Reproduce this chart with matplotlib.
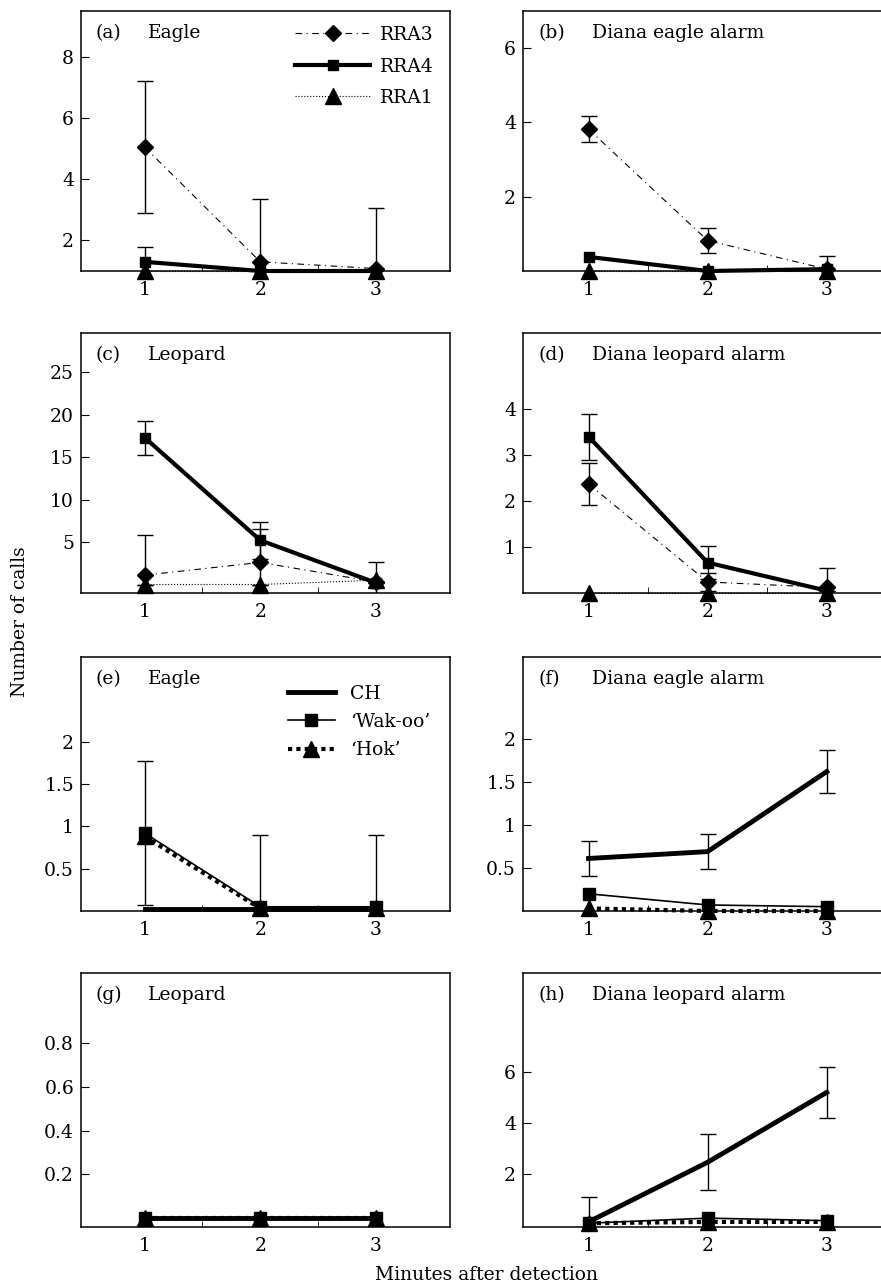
import numpy as np
import matplotlib
matplotlib.use('Agg')
import matplotlib.pyplot as plt
from matplotlib.lines import Line2D

plt.rcParams['font.family'] = ['DejaVu Serif']
plt.rcParams['font.size'] = 13.5

minutes = [1, 2, 3]

# (a) Eagle
a_rra3 = [5.05, 1.3, 1.08]
a_rra3_err = [2.15, 2.05, 0.0]
a_rra4 = [1.3, 1.0, 1.0]
a_rra4_err = [0.5, 0.0, 2.05]
a_rra1 = [1.0, 1.0, 1.0]

# (b) Diana eagle alarm
b_rra3 = [3.82, 0.82, 0.05]
b_rra3_err = [0.35, 0.33, 0.35]
b_rra4 = [0.38, 0.0, 0.05]
b_rra1 = [0.0, 0.0, 0.0]

# (c) Leopard
c_rra3 = [1.1, 2.6, 0.3]
c_rra3_err = [4.7, 3.9, 0.0]
c_rra4 = [17.3, 5.2, 0.2]
c_rra4_err = [2.0, 2.2, 0.0]
c_rra1 = [0.0, 0.0, 0.5]
c_rra1_err = [0.0, 0.0, 2.2]

# (d) Diana leopard alarm
d_rra3 = [2.37, 0.24, 0.12]
d_rra3_err = [0.45, 0.2, 0.42]
d_rra4 = [3.4, 0.66, 0.05]
d_rra4_err = [0.5, 0.36, 0.0]
d_rra1 = [0.0, 0.0, 0.0]

# (e) Eagle
e_ch = [0.02, 0.02, 0.02]
e_wak = [0.92, 0.05, 0.05]
e_wak_err = [0.85, 0.85, 0.85]
e_hok = [0.88, 0.03, 0.03]

# (f) Diana eagle alarm
f_ch = [0.61, 0.69, 1.62]
f_ch_err = [0.2, 0.2, 0.25]
f_wak = [0.2, 0.07, 0.05]
f_hok = [0.03, 0.0, 0.0]

# (g) Leopard
g_ch = [0.0, 0.0, 0.0]
g_wak = [0.0, 0.0, 0.0]
g_hok = [0.0, 0.0, 0.0]

# (h) Diana leopard alarm
h_ch = [0.1, 2.45, 5.2]
h_ch_err = [1.0, 1.1, 1.0]
h_wak = [0.05, 0.25, 0.15]
h_hok = [0.05, 0.1, 0.1]

rra3_style = dict(color='black', lw=0.8, ls=(0, (6, 4, 1, 4)), marker='D', ms=8)
rra4_style = dict(color='black', lw=3, ls='-', marker='s', ms=7)
rra1_style = dict(color='black', lw=0.8, ls=':', marker='^', ms=11)
ch_style = dict(color='black', lw=3.5, ls='-')
wak_style = dict(color='black', lw=1.2, ls='-', marker='s', ms=8)
hok_style = dict(color='black', lw=3, ls=(0, (1, 1)), marker='^', ms=11)

fig = plt.figure(figsize=(8.81, 12.87), dpi=100)

W, H = 881.0, 1287.0
cols = [(81, 369), (523, 380)]
rows = [(11, 271), (333, 593), (657, 911), (973, 1227)]


def make_ax(r, c):
    x0, w = cols[c]
    top, bot = rows[r]
    ax = fig.add_axes([x0 / W, 1 - bot / H, w / W, (bot - top) / H])
    ax.set_xlim(0.45, 3.64)
    ax.set_xticks(minutes)
    ax.set_xticks([1.5, 2.5], minor=True)
    ax.tick_params(axis='x', which='major', length=0, pad=7)
    ax.tick_params(axis='x', which='minor', direction='in', length=4)
    ax.tick_params(axis='y', direction='in', length=6, pad=5)
    for s in ax.spines.values():
        s.set_linewidth(1.1)
    return ax


def series(ax, y, style, err=None):
    ax.plot(minutes, y, clip_on=False, zorder=3, **style)
    if err is not None:
        ax.errorbar(minutes, y, yerr=err, fmt='none', ecolor='black',
                    elinewidth=1, capsize=6, capthick=1, zorder=2)


def label(ax, tag, name):
    ax.text(0.04, 0.915, tag, transform=ax.transAxes, va='center')
    ax.text(0.182, 0.915, name, transform=ax.transAxes, va='center')


# (a)
ax = make_ax(0, 0)
series(ax, a_rra3, rra3_style, a_rra3_err)
series(ax, a_rra4, rra4_style, a_rra4_err)
series(ax, a_rra1, rra1_style)
ax.set_ylim(1, 9.5)
ax.set_yticks([2, 4, 6, 8])
label(ax, '(a)', 'Eagle')
hs = [Line2D([], [], **rra3_style), Line2D([], [], **rra4_style), Line2D([], [], **rra1_style)]
ax.legend(hs, ['RRA3', 'RRA4', 'RRA1'], loc='upper left', bbox_to_anchor=(0.54, 1.0),
          frameon=False, handlelength=4.0, handletextpad=0.5, labelspacing=0.72, borderpad=0.3)

# (b)
ax = make_ax(0, 1)
series(ax, b_rra3, rra3_style, b_rra3_err)
series(ax, b_rra4, rra4_style)
series(ax, b_rra1, rra1_style)
ax.set_ylim(0, 7)
ax.set_yticks([2, 4, 6])
label(ax, '(b)', 'Diana eagle alarm')

# (c)
ax = make_ax(1, 0)
series(ax, c_rra3, rra3_style, c_rra3_err)
series(ax, c_rra4, rra4_style, c_rra4_err)
series(ax, c_rra1, rra1_style, c_rra1_err)
ax.set_ylim(-1, 29.6)
ax.set_yticks([5, 10, 15, 20, 25])
label(ax, '(c)', 'Leopard')

# (d)
ax = make_ax(1, 1)
series(ax, d_rra3, rra3_style, d_rra3_err)
series(ax, d_rra4, rra4_style, d_rra4_err)
series(ax, d_rra1, rra1_style)
ax.set_ylim(0, 5.65)
ax.set_yticks([1, 2, 3, 4])
label(ax, '(d)', 'Diana leopard alarm')

# (e)
ax = make_ax(2, 0)
series(ax, e_ch, ch_style)
series(ax, e_wak, wak_style, e_wak_err)
series(ax, e_hok, hok_style)
ax.set_ylim(0, 3.0)
ax.set_yticks([0.5, 1, 1.5, 2])
ax.set_yticklabels(['0.5', '1', '1.5', '2'])
label(ax, '(e)', 'Eagle')
hs = [Line2D([], [], **ch_style), Line2D([], [], **wak_style), Line2D([], [], **hok_style)]
ax.legend(hs, ['CH', '\u2018Wak-oo\u2019', '\u2018Hok\u2019'], loc='upper left',
          bbox_to_anchor=(0.52, 0.95), frameon=False, handlelength=2.5,
          handletextpad=0.8, labelspacing=0.55, borderpad=0.3)

# (f)
ax = make_ax(2, 1)
series(ax, f_ch, ch_style, f_ch_err)
series(ax, f_wak, wak_style)
series(ax, f_hok, hok_style)
ax.set_ylim(0, 2.95)
ax.set_yticks([0.5, 1, 1.5, 2])
ax.set_yticklabels(['0.5', '1', '1.5', '2'])
label(ax, '(f)', 'Diana eagle alarm')

# (g)
ax = make_ax(3, 0)
series(ax, g_ch, ch_style)
series(ax, g_wak, wak_style)
series(ax, g_hok, hok_style)
ax.set_ylim(-0.04, 1.12)
ax.set_yticks([0.2, 0.4, 0.6, 0.8])
label(ax, '(g)', 'Leopard')

# (h)
ax = make_ax(3, 1)
series(ax, h_ch, ch_style, h_ch_err)
series(ax, h_wak, wak_style)
series(ax, h_hok, hok_style)
ax.set_ylim(-0.1, 9.9)
ax.set_yticks([2, 4, 6])
label(ax, '(h)', 'Diana leopard alarm')

fig.text(20 / W, 1 - 622 / H, 'Number of calls', rotation=90, ha='center', va='center')
fig.text(486 / W, 1 - 1275 / H, 'Minutes after detection', ha='center', va='center')

fig.savefig('out.png', dpi=100)
